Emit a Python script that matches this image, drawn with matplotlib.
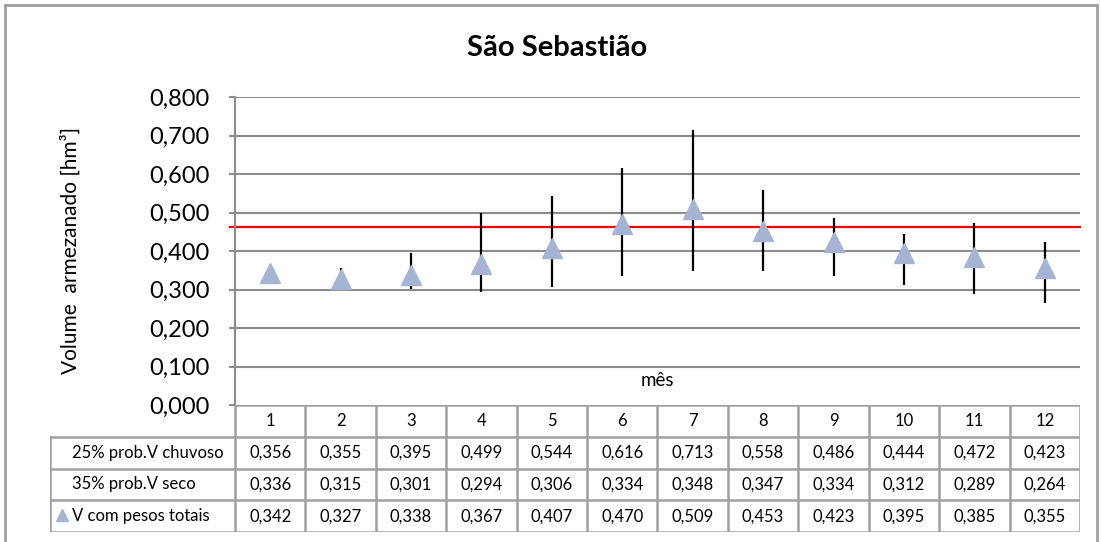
import matplotlib
matplotlib.use("Agg")
import matplotlib.pyplot as plt
from matplotlib.patches import Rectangle
from matplotlib.lines import Line2D

plt.rcParams['font.family'] = ['Lato', 'DejaVu Sans']

# dados
meses = [1, 2, 3, 4, 5, 6, 7, 8, 9, 10, 11, 12]
v_chuvoso = [0.356, 0.355, 0.395, 0.499, 0.544, 0.616, 0.713, 0.558, 0.486, 0.444, 0.472, 0.423]
v_seco = [0.336, 0.315, 0.301, 0.294, 0.306, 0.334, 0.348, 0.347, 0.334, 0.312, 0.289, 0.264]
v_pesos = [0.342, 0.327, 0.338, 0.367, 0.407, 0.470, 0.509, 0.453, 0.423, 0.395, 0.385, 0.355]
v_ref = 0.462
linhas_tabela = ["25% prob.V chuvoso", "35% prob.V seco", "V com pesos totais"]
yticks = [0.0, 0.1, 0.2, 0.3, 0.4, 0.5, 0.6, 0.7, 0.8]

W, H = 1101, 542
cor_tri = '#A5B4D2'
cor_grade = '#8C8C8C'
cor_tab = '#A0A0A0'

fig = plt.figure(figsize=(W / 100, H / 100), dpi=100)

def px(x0, y0, x1, y1):
    # caixa em pixels -> coordenadas da figura
    return [x0 / W, 1 - y1 / H, (x1 - x0) / W, (y1 - y0) / H]

# moldura externa
fig.patches.append(Rectangle((5 / W, -0.02), (1097 - 5) / W, 1 - 5 / H + 0.02,
                             transform=fig.transFigure, fill=False,
                             edgecolor=cor_tab, lw=2))

fig.text(557 / W, 1 - 48 / H, "São Sebastião", ha='center', va='center',
         fontsize=21, fontweight='bold')

# area do grafico
ax = fig.add_axes(px(235, 97, 1080, 405))
ax.set_xlim(0.5, 12.5)
ax.set_ylim(0, 0.8)
ax.set_yticks(yticks)
ax.set_yticklabels([f"{v:.3f}".replace('.', ',') for v in yticks])
ax.set_xticks([])
ax.tick_params(axis='y', labelsize=17, length=4, width=1.5, color=cor_grade, pad=14)
for s in ['top', 'right', 'bottom']:
    ax.spines[s].set_visible(False)
ax.spines['left'].set_color(cor_grade)
ax.spines['left'].set_linewidth(1.5)
for v in yticks[1:]:
    ax.axhline(v, color=cor_grade, lw=1.5, zorder=1)
ax.axhline(v_ref, color='#FF0000', lw=1.6, zorder=2, xmin=-0.006, clip_on=False)

ax.vlines(meses, v_seco, v_chuvoso, color='black', lw=1.6, zorder=3)
ax.plot(meses, v_pesos, linestyle='none', marker='^', markersize=15,
        color=cor_tri, markeredgecolor=cor_tri, zorder=4)

ax.text(0.5, 0.078, "mês", transform=ax.transAxes, ha='center', va='center', fontsize=13.5)
ax.set_ylabel("Volume  armezanado [hm³]", fontsize=15)
ax.yaxis.set_label_coords(-(235 - 81) / 845, 0.5)

# tabela de dados
tab = fig.add_axes(px(50, 405, 1080, 532))
larg = 845 / 12
esq = 0.5 - (235 - 50) / larg
tab.set_xlim(esq, 12.5)
tab.set_ylim(4, 0)
tab.axis('off')

lk = dict(color=cor_tab, lw=1.8, solid_capstyle='projecting')
# linhas horizontais
tab.add_line(Line2D([0.5, 12.5], [0, 0], **lk))
for r in [1, 2, 3, 4]:
    tab.add_line(Line2D([esq, 12.5], [r, r], **lk))
# linhas verticais
for c in range(13):
    tab.add_line(Line2D([c + 0.5, c + 0.5], [0, 4], **lk))
tab.add_line(Line2D([esq, esq], [1, 4], **lk))

fs = 12
for m in meses:
    tab.text(m, 0.5, str(m), ha='center', va='center', fontsize=fs)
x_rot = esq + (72 - 50) / larg
for i, (nome, vals) in enumerate(zip(linhas_tabela, [v_chuvoso, v_seco, v_pesos])):
    y = i + 1.5
    tab.text(x_rot, y, nome, ha='left', va='center', fontsize=fs)
    for m, v in zip(meses, vals):
        tab.text(m, y, f"{v:.3f}".replace('.', ','), ha='center', va='center', fontsize=fs)
tab.plot([esq + (62 - 50) / larg], [3.47], marker='^', markersize=9,
         color=cor_tri, markeredgecolor=cor_tri, linestyle='none')

fig.savefig("out.png", dpi=100)
